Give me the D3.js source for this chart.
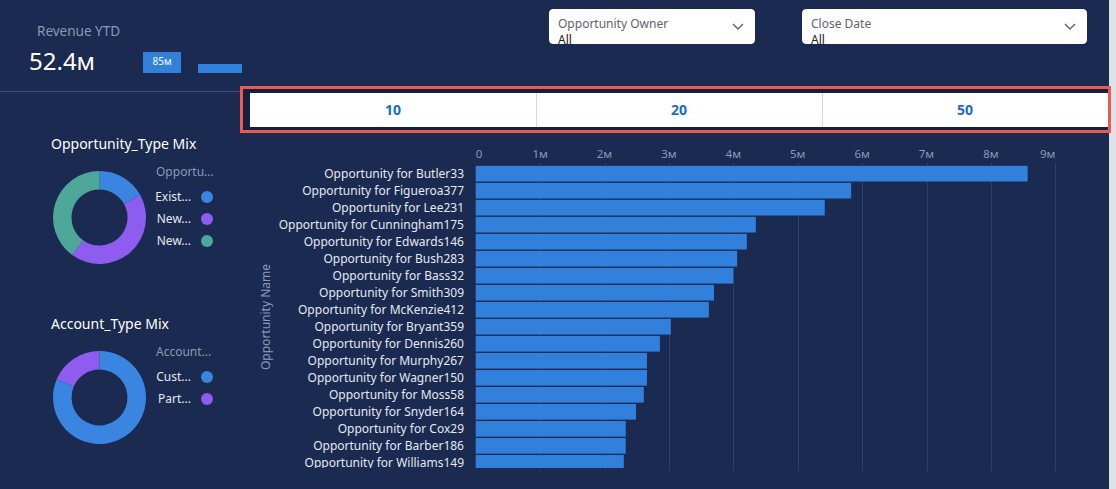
<!DOCTYPE html>
<html>
<head>
<meta charset="utf-8">
<script src="https://cdn.jsdelivr.net/npm/d3@7/dist/d3.min.js"></script>
<style>
  html, body { margin: 0; padding: 0; background: #1a2a50; }
  svg { display: block; font-family: "Noto Sans", "Open Sans", sans-serif; }
</style>
</head>
<body>
<svg id="chart" width="1116" height="489"></svg>
<script>
// ---------- data ----------
const categories = [
  "Opportunity for Butler33", "Opportunity for Figueroa377", "Opportunity for Lee231",
  "Opportunity for Cunningham175", "Opportunity for Edwards146", "Opportunity for Bush283",
  "Opportunity for Bass32", "Opportunity for Smith309", "Opportunity for McKenzie412",
  "Opportunity for Bryant359", "Opportunity for Dennis260", "Opportunity for Murphy267",
  "Opportunity for Wagner150", "Opportunity for Moss58", "Opportunity for Snyder164",
  "Opportunity for Cox29", "Opportunity for Barber186", "Opportunity for Williams149"
];
const revenueMillions = [8.57, 5.83, 5.42, 4.35, 4.21, 4.06, 4.00, 3.70, 3.62, 3.03, 2.86, 2.66, 2.66, 2.61, 2.49, 2.33, 2.33, 2.30];
const xTickValues = [0, 1, 2, 3, 4, 5, 6, 7, 8, 9];
const xTickLabels = ["0", "1м", "2м", "3м", "4м", "5м", "6м", "7м", "8м", "9м"];

const oppTypeLabels = ["Exist...", "New...", "New..."];
const oppTypeValues = [17, 43, 40];
const acctTypeLabels = ["Cust...", "Part..."];
const acctTypeValues = [81.4, 18.6];

const revenueYTD = "52.4м";
const revenueTarget = "85м";
const pageSizes = ["10", "20", "50"];
const filters = [{title: "Opportunity Owner", value: "All"}, {title: "Close Date", value: "All"}];

// ---------- colours ----------
const BG = "#1a2a50";
const BAR = "#3080dc";
const donutColors = ["#3a85e0", "#8f5cf0", "#4ea89a"];
const MUTED = "#8c99b6";
const TEXT = "#e4e9f2";

const svg = d3.select("#chart");
svg.append("rect").attr("width", 1116).attr("height", 489).attr("fill", BG);
// right edge strip
svg.append("rect").attr("x", 1109).attr("y", 0).attr("width", 7).attr("height", 489).attr("fill", "#dde2ea");

// ---------- KPI ----------
svg.append("text").attr("x", 37).attr("y", 36).attr("fill", MUTED).attr("font-size", 13.5).text("Revenue YTD");
svg.append("text").attr("x", 29).attr("y", 70).attr("fill", "#ffffff").attr("font-size", 24).text(revenueYTD);
svg.append("rect").attr("x", 143).attr("y", 52).attr("width", 38).attr("height", 21).attr("fill", BAR);
svg.append("text").attr("x", 162).attr("y", 65).attr("text-anchor", "middle").attr("fill", "#ffffff").attr("font-size", 10).text(revenueTarget);
svg.append("rect").attr("x", 198).attr("y", 64).attr("width", 44).attr("height", 9).attr("fill", BAR);
svg.append("line").attr("x1", 0).attr("x2", 240).attr("y1", 91.5).attr("y2", 91.5).attr("stroke", "#3c4f7c").attr("stroke-width", 1);

// ---------- filters ----------
const filterBoxes = [{x: 549, w: 206}, {x: 802, w: 285}];
filters.forEach((f, i) => {
  const b = filterBoxes[i];
  const g = svg.append("g");
  const clipId = "fclip" + i;
  svg.append("clipPath").attr("id", clipId).append("rect").attr("x", b.x).attr("y", 9).attr("width", b.w).attr("height", 35).attr("rx", 4);
  g.attr("clip-path", `url(#${clipId})`);
  g.append("rect").attr("x", b.x).attr("y", 9).attr("width", b.w).attr("height", 35).attr("rx", 4).attr("fill", "#ffffff");
  g.append("text").attr("x", b.x + 9).attr("y", 28).attr("fill", "#5c6470").attr("font-size", 12).text(f.title);
  g.append("text").attr("x", b.x + 9).attr("y", 44).attr("fill", "#222222").attr("font-size", 12).text(f.value);
  const cx = b.x + b.w - 17;
  g.append("path").attr("d", `M${cx - 5},${24} L${cx},${29} L${cx + 5},${24}`).attr("fill", "none").attr("stroke", "#5c6470").attr("stroke-width", 1.4);
});

// ---------- page size buttons ----------
svg.append("rect").attr("x", 241.5).attr("y", 87.5).attr("width", 868).attr("height", 44).attr("fill", "#14203f").attr("stroke", "#ef5a4c").attr("stroke-width", 3);
const btnX = d3.scaleBand().domain(pageSizes).range([250, 1108]);
svg.append("rect").attr("x", 250).attr("y", 93).attr("width", 858).attr("height", 34).attr("fill", "#ffffff");
pageSizes.forEach((p, i) => {
  if (i > 0) svg.append("line").attr("x1", btnX(p) + 0.5).attr("x2", btnX(p) + 0.5).attr("y1", 93).attr("y2", 127).attr("stroke", "#d4d8de");
  svg.append("text").attr("x", btnX(p) + btnX.bandwidth() / 2).attr("y", 115).attr("text-anchor", "middle")
    .attr("fill", "#1a6cc4").attr("font-size", 14).attr("font-weight", "bold").text(p);
});

// ---------- donuts ----------
function donut(cx, cy, title, titleY, legendTitle, labels, values, legendYs) {
  svg.append("text").attr("x", 51).attr("y", titleY).attr("fill", "#ffffff").attr("font-size", 14).text(title);
  const pie = d3.pie().sort(null).value(d => d)(values);
  const arc = d3.arc().innerRadius(28).outerRadius(46.5);
  const g = svg.append("g").attr("transform", `translate(${cx},${cy})`);
  g.selectAll("path").data(pie).join("path").attr("d", arc).attr("fill", (d, i) => donutColors[i]);
  svg.append("text").attr("x", 156).attr("y", legendYs[0]).attr("fill", MUTED).attr("font-size", 12).text(legendTitle);
  labels.forEach((l, i) => {
    const y = legendYs[i + 1];
    svg.append("text").attr("x", 191).attr("y", y + 4).attr("text-anchor", "end").attr("fill", TEXT).attr("font-size", 12).text(l);
    svg.append("circle").attr("cx", 207).attr("cy", y).attr("r", 6).attr("fill", donutColors[i]);
  });
}
donut(99.5, 217.5, "Opportunity_Type Mix", 149, "Opportu...", oppTypeLabels, oppTypeValues, [176, 197, 219, 241]);
donut(99.5, 397.5, "Account_Type Mix", 329, "Account...", acctTypeLabels, acctTypeValues, [356, 377, 399]);

// ---------- bar chart ----------
const x = d3.scaleLinear().domain([0, 9]).range([475.7, 1055.3]);
const y = d3.scaleBand().domain(categories).range([165.5, 471]).paddingInner(0.08).paddingOuter(0.02);

const grid = svg.append("g");
grid.selectAll("line").data(xTickValues.slice(1)).join("line")
  .attr("x1", d => Math.round(x(d)) + 0.5).attr("x2", d => Math.round(x(d)) + 0.5)
  .attr("y1", 163).attr("y2", 471).attr("stroke", "#2d3e68").attr("stroke-width", 1);

svg.append("g").selectAll("text").data(xTickValues).join("text")
  .attr("x", d => x(d))
  .attr("y", 158)
  .attr("text-anchor", (d, i) => i === 0 ? "start" : (i === xTickValues.length - 1 ? "end" : "middle"))
  .attr("fill", MUTED).attr("font-size", 11.5)
  .text((d, i) => xTickLabels[i]);

svg.append("clipPath").attr("id", "plotclip").append("rect").attr("x", 250).attr("y", 160).attr("width", 860).attr("height", 308);
const plot = svg.append("g").attr("clip-path", "url(#plotclip)");
plot.selectAll("rect").data(categories).join("rect")
  .attr("x", x(0)).attr("y", d => y(d))
  .attr("width", (d, i) => x(revenueMillions[i]) - x(0))
  .attr("height", y.bandwidth()).attr("fill", BAR);
plot.selectAll("text").data(categories).join("text")
  .attr("x", 464).attr("y", d => y(d) + y.bandwidth() / 2 + 4)
  .attr("text-anchor", "end").attr("fill", TEXT).attr("font-size", 12).text(d => d);

svg.append("text").attr("transform", "translate(270,317) rotate(-90)").attr("text-anchor", "middle")
  .attr("fill", MUTED).attr("font-size", 12).text("Opportunity Name");
</script>
</body>
</html>
